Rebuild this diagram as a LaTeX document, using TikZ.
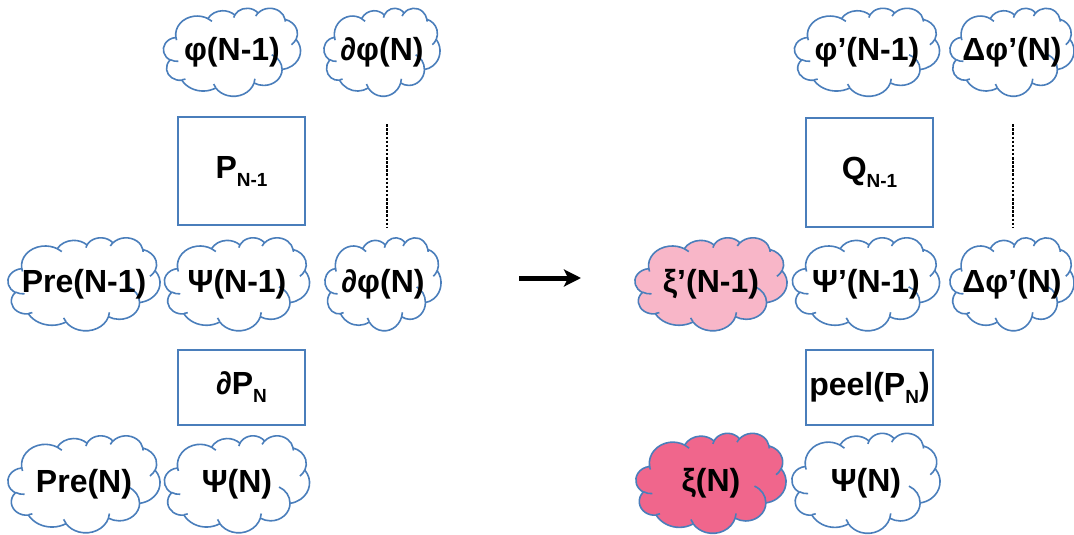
\documentclass[tikz,border=0pt]{standalone}
\usepackage{fontspec}
\setmainfont{Liberation Sans}
\usetikzlibrary{arrows.meta}
\definecolor{edge}{RGB}{74,126,187}
\definecolor{lightpink}{RGB}{248,182,200}
\definecolor{deeppink}{RGB}{240,102,140}
\newcommand{\lowsub}[1]{\raisebox{-8pt}{\fontsize{19}{19}\selectfont #1}}
\tikzset{
  % elliptic arc given by radii, start direction and sweep (directions measured from the centre)
  ooarc/.code n args={4}{%
    \pgfmathsetmacro\ooA{atan2(#1*sin(#3), #2*cos(#3))}%
    \pgfmathsetmacro\ooB{atan2(#1*sin(#3+#4), #2*cos(#3+#4))}%
    \pgfmathsetmacro\ooD{mod(\ooB-\ooA+720,360)}%
    \pgfmathsetmacro\ooE{\ooA+\ooD}%
    \pgfkeysalso{x radius=#1, y radius=#2, start angle=\ooA, end angle=\ooE}},
  pics/pcloud/.style n args={3}{code={
    \begin{scope}[x=#1/432*1pt, y=-#2/432*1pt, shift={(-216,-216)},
                  draw=edge, line width=1.6pt, line join=round]
      \filldraw[fill=#3] (39.00,143.70)
        arc[ooarc={67.53}{91.90}{-190.4875}{123.7805}]
        arc[ooarc={53.33}{72.67}{-144.1024}{89.9452}]
        arc[ooarc={43.65}{59.45}{-145.8079}{99.7230}]
        arc[ooarc={48.57}{65.95}{-130.9861}{117.2417}]
        arc[ooarc={53.33}{72.73}{-78.7089}{109.0269}]
        arc[ooarc={67.75}{92.20}{-46.2673}{130.2690}]
        arc[ooarc={57.85}{78.67}{0.6250}{114.0333}]
        arc[ooarc={67.52}{92.15}{22.4516}{115.1726}]
        arc[ooarc={77.20}{105.43}{66.2426}{75.7110}]
        arc[ooarc={43.60}{59.36}{-274.9421}{146.7356}]
        arc[ooarc={43.45}{59.45}{-246.8285}{152.5189}] -- cycle;
      \draw (46.93,261.77) arc[ooarc={43.45}{59.45}{86.7420}{26.4295}];
      \draw (69.28,348.99) arc[ooarc={43.60}{59.36}{73.6105}{11.4475}];
      \draw (164.78,390.90) arc[ooarc={67.52}{92.15}{137.6242}{14.0811}];
      \draw (288.27,347.51) arc[ooarc={67.52}{92.15}{6.4533}{15.9984}];
      \draw (341.29,229.54) arc[ooarc={57.85}{78.67}{-70.2924}{70.9174}];
      \draw (417.98,153.54) arc[ooarc={53.33}{72.73}{30.3180}{27.7515}];
      \draw (383.24,54.26) arc[ooarc={48.57}{65.95}{-13.7443}{14.8589}];
      \draw (290.78,39.52) arc[ooarc={48.57}{65.95}{-149.1815}{18.1954}];
      \draw (221.41,47.20) arc[ooarc={43.65}{59.45}{-163.4943}{17.6864}];
      \draw (140.00,51.92) arc[ooarc={67.53}{91.90}{-66.7070}{12.3194}];
      \draw (41.27,157.89) arc[ooarc={67.53}{91.90}{157.6544}{11.8521}];
    \end{scope}}},
  label/.style={font=\fontsize{32}{32}\selectfont\bfseries, inner sep=0pt},
  frame/.style={draw=edge, line width=1.6pt, fill=white},
  dots/.style={line width=2.6pt, dash pattern=on 2.5pt off 1.6pt},
}
% cloud with its text: name, x, y, width, height, fill, text
\newcommand{\puffnode}[7]{%
  \pic at (#2,#3) {pcloud={#4}{#5}{#6}};
  \node[label, minimum width=#4, minimum height=#5] (#1) at (#2,#3) {#7};}
\begin{document}
\begin{tikzpicture}[x=1pt,y=-1pt]
\useasboundingbox (0,0) rectangle (1074,535);
% left group
\puffnode{phiA}{232}{52}{137}{88}{white}{φ(N-1)}
\puffnode{dphiA}{382}{52}{116}{88}{white}{∂φ(N)}
\node[frame, minimum width=127, minimum height=108] (PA) at (241.5,171) {};
\node[label] at (PA) {P\lowsub{N-1}};
\puffnode{preA}{84}{284}{152}{93}{white}{Pre(N-1)}
\puffnode{psiA}{237}{284}{145}{93}{white}{Ψ(N-1)}
\puffnode{dphiB}{383}{284}{116}{93}{white}{∂φ(N)}
\node[frame, minimum width=127, minimum height=75] (dP) at (241.5,387.5) {};
\node[label] at (dP) {∂P\lowsub{N}};
\puffnode{preB}{84}{484}{152}{97}{white}{Pre(N)}
\puffnode{psiB}{237}{484}{145}{97}{white}{Ψ(N)}
\draw[dots] ([xshift=5pt,yshift=-28pt]dphiA.south) -- ([xshift=4pt,yshift=9pt]dphiB.north);
% transition arrow
\coordinate (go) at (519,278);
\coordinate (to) at (581,278);
\draw[line width=5pt, -{Stealth[length=17pt,width=17pt,inset=4pt]}] (go) -- (to);
% right group
\puffnode{phiR}{867}{52}{145}{88}{white}{φ’(N-1)}
\puffnode{DphiA}{1012}{52}{124}{88}{white}{Δφ’(N)}
\node[frame, minimum width=127, minimum height=109] (Q) at (869.5,172.5) {};
\node[label] at (Q) {Q\lowsub{N-1}};
\puffnode{xiA}{711}{284}{152}{93}{lightpink}{ξ’(N-1)}
\puffnode{psiR}{866}{284}{147}{93}{white}{Ψ’(N-1)}
\puffnode{DphiB}{1012}{284}{124}{93}{white}{Δφ’(N)}
\node[frame, minimum width=127, minimum height=75] (peel) at (869.5,387.5) {};
\node[label] at (peel) {peel(P\lowsub{N})};
\puffnode{xiB}{711}{483}{150}{100}{deeppink}{ξ(N)}
\puffnode{psiC}{866}{483}{148}{100}{white}{Ψ(N)}
\draw[dots] ([xshift=1pt,yshift=-28pt]DphiA.south) -- ([xshift=1pt,yshift=9pt]DphiB.north);
\end{tikzpicture}
\end{document}
